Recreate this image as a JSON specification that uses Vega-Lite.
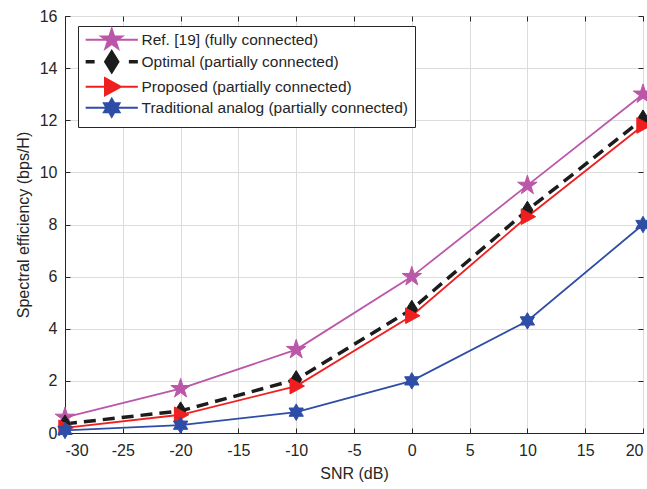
{
  "$schema": "https://vega.github.io/schema/vega-lite/v6.json",
  "width": 578,
  "height": 417,
  "autosize": {"type": "none"},
  "padding": {"left": 65, "top": 16, "right": 4, "bottom": 56},
  "background": "white",
  "config": {
    "font": "Liberation Sans",
    "view": {"stroke": "#262626", "strokeWidth": 1},
    "axis": {
      "labelFont": "Liberation Sans",
      "titleFont": "Liberation Sans",
      "labelFontSize": 16,
      "titleFontSize": 16,
      "titleFontWeight": "normal",
      "labelColor": "#262626",
      "titleColor": "#262626",
      "domainColor": "#262626",
      "tickColor": "#262626",
      "gridColor": "#dcdcdc",
      "gridWidth": 1
    }
  },
  "data": {
    "values": [
      {"snr": -30, "se": 0.6, "series": "Ref. [19] (fully connected)"},
      {"snr": -20, "se": 1.7, "series": "Ref. [19] (fully connected)"},
      {"snr": -10, "se": 3.2, "series": "Ref. [19] (fully connected)"},
      {"snr": 0, "se": 6.0, "series": "Ref. [19] (fully connected)"},
      {"snr": 10, "se": 9.5, "series": "Ref. [19] (fully connected)"},
      {"snr": 20, "se": 13.0, "series": "Ref. [19] (fully connected)"},
      {"snr": -30, "se": 0.35, "series": "Optimal (partially connected)"},
      {"snr": -20, "se": 0.85, "series": "Optimal (partially connected)"},
      {"snr": -10, "se": 2.05, "series": "Optimal (partially connected)"},
      {"snr": 0, "se": 4.75, "series": "Optimal (partially connected)"},
      {"snr": 10, "se": 8.55, "series": "Optimal (partially connected)"},
      {"snr": 20, "se": 12.05, "series": "Optimal (partially connected)"},
      {"snr": -30, "se": 0.2, "series": "Proposed (partially connected)"},
      {"snr": -20, "se": 0.7, "series": "Proposed (partially connected)"},
      {"snr": -10, "se": 1.8, "series": "Proposed (partially connected)"},
      {"snr": 0, "se": 4.5, "series": "Proposed (partially connected)"},
      {"snr": 10, "se": 8.3, "series": "Proposed (partially connected)"},
      {"snr": 20, "se": 11.8, "series": "Proposed (partially connected)"},
      {"snr": -30, "se": 0.1, "series": "Traditional analog (partially connected)"},
      {"snr": -20, "se": 0.3, "series": "Traditional analog (partially connected)"},
      {"snr": -10, "se": 0.8, "series": "Traditional analog (partially connected)"},
      {"snr": 0, "se": 2.0, "series": "Traditional analog (partially connected)"},
      {"snr": 10, "se": 4.3, "series": "Traditional analog (partially connected)"},
      {"snr": 20, "se": 8.0, "series": "Traditional analog (partially connected)"}
    ]
  },
  "resolve": {"axis": {"x": "independent", "y": "independent"}},
  "layer": [
    {
      "transform": [{"filter": "datum.series !== 'Optimal (partially connected)'"}],
      "mark": {"type": "line", "clip": false, "strokeWidth": 1.8},
      "encoding": {
        "x": {
          "field": "snr", "type": "quantitative",
          "scale": {"domain": [-30, 20], "nice": false, "zero": false},
          "axis": {
            "title": "SNR (dB)",
            "values": [-30, -25, -20, -15, -10, -5, 0, 5, 10, 15, 20],
            "labelExpr": "'' + datum.value",
            "tickSize": -5,
            "labelPadding": 14,
            "titlePadding": 7
          }
        },
        "y": {
          "field": "se", "type": "quantitative",
          "scale": {"domain": [0, 16], "nice": false},
          "axis": {
            "title": "Spectral efficiency (bps/H)",
            "values": [0, 2, 4, 6, 8, 10, 12, 14, 16],
            "labelExpr": "'' + datum.value",
            "tickSize": -5,
            "labelPadding": 13,
            "titlePadding": 8
          }
        },
        "color": {
          "field": "series", "type": "nominal",
          "sort": null,
          "scale": {
            "domain": ["Ref. [19] (fully connected)", "Optimal (partially connected)", "Proposed (partially connected)", "Traditional analog (partially connected)"],
            "range": ["#BB57A8", "#1c1c1c", "#F01F1F", "#2E4DA6"]
          },
          "legend": {
            "title": null,
            "orient": "none",
            "legendX": 13,
            "legendY": 10,
            "direction": "vertical",
            "fillColor": "white",
            "strokeColor": "#262626",
            "padding": 6,
            "rowPadding": -8,
            "symbolSize": 324,
            "symbolOffset": 20,
            "labelOffset": 22,
            "labelFont": "Liberation Sans",
            "labelFontSize": 15.5,
            "labelColor": "#262626",
            "labelLimit": 400,
            "encode": {
              "symbols": {
                "update": {
                  "shape": {"signal": "datum.value === 'Ref. [19] (fully connected)' ? 'M-2.9,0H2.9M0,-1.2L0.269,-0.371L1.141,-0.371L0.436,0.142L0.706,0.971L0,0.458L-0.706,0.971L-0.436,0.142L-1.141,-0.371L-0.269,-0.371Z' : datum.value === 'Optimal (partially connected)' ? 'M-2.9,0H-1.9M1.9,0H2.9M0,-1.05L0.65,0L0,1.05L-0.65,0Z' : datum.value === 'Proposed (partially connected)' ? 'M-2.9,0H2.9M-0.75,-0.95L1,0L-0.75,0.95Z' : 'M-2.9,0H2.9M0,-1L0.2887,-0.5L0.866,-0.5L0.577,0L0.866,0.5L0.2887,0.5L0,1L-0.2887,0.5L-0.866,0.5L-0.577,0L-0.866,-0.5L-0.2887,-0.5Z'"},
                  "fill": {"signal": "datum.value === 'Ref. [19] (fully connected)' ? '#BB57A8' : datum.value === 'Optimal (partially connected)' ? '#1c1c1c' : datum.value === 'Proposed (partially connected)' ? '#F01F1F' : '#2E4DA6'"},
                  "stroke": {"signal": "datum.value === 'Ref. [19] (fully connected)' ? '#BB57A8' : datum.value === 'Optimal (partially connected)' ? '#1c1c1c' : datum.value === 'Proposed (partially connected)' ? '#F01F1F' : '#2E4DA6'"},
                  "strokeWidth": {"signal": "datum.value === 'Optimal (partially connected)' ? 3.5 : 2"},
                  "strokeDash": {"value": []},
                  "size": {"value": 324},
                  "opacity": {"value": 1}
                }
              }
            }
          }
        }
      }
    },
    {
      "transform": [{"filter": "datum.series === 'Optimal (partially connected)'"}],
      "mark": {"type": "line", "clip": false, "strokeWidth": 3.5, "strokeDash": [12, 7]},
      "encoding": {
        "x": {"field": "snr", "type": "quantitative", "axis": null},
        "y": {"field": "se", "type": "quantitative", "axis": null},
        "color": {"field": "series", "type": "nominal", "sort": null, "legend": null}
      }
    },
    {
      "transform": [{"filter": "datum.series === 'Ref. [19] (fully connected)'"}],
      "mark": {"type": "point", "filled": true, "opacity": 1, "strokeWidth": 1, "size": 420, "clip": false,
        "stroke": "#BB57A8",
        "shape": "M0,-1L0.2245,-0.309L0.951,-0.309L0.363,0.118L0.588,0.809L0,0.382L-0.588,0.809L-0.363,0.118L-0.951,-0.309L-0.2245,-0.309Z"},
      "encoding": {
        "x": {"field": "snr", "type": "quantitative", "axis": null},
        "y": {"field": "se", "type": "quantitative", "axis": null},
        "color": {"field": "series", "type": "nominal", "sort": null, "legend": null}
      }
    },
    {
      "transform": [{"filter": "datum.series === 'Optimal (partially connected)'"}],
      "mark": {"type": "point", "filled": true, "opacity": 1, "strokeWidth": 1, "size": 324, "clip": false,
        "stroke": "#1c1c1c",
        "shape": "M0,-1L0.62,0L0,1L-0.62,0Z"},
      "encoding": {
        "x": {"field": "snr", "type": "quantitative", "axis": null},
        "y": {"field": "se", "type": "quantitative", "axis": null},
        "color": {"field": "series", "type": "nominal", "sort": null, "legend": null}
      }
    },
    {
      "transform": [{"filter": "datum.series === 'Proposed (partially connected)'"}],
      "mark": {"type": "point", "filled": true, "opacity": 1, "strokeWidth": 1, "size": 272, "clip": false,
        "stroke": "#F01F1F",
        "shape": "M-0.75,-0.95L1,0L-0.75,0.95Z"},
      "encoding": {
        "x": {"field": "snr", "type": "quantitative", "axis": null},
        "y": {"field": "se", "type": "quantitative", "axis": null},
        "color": {"field": "series", "type": "nominal", "sort": null, "legend": null}
      }
    },
    {
      "transform": [{"filter": "datum.series === 'Traditional analog (partially connected)'"}],
      "mark": {"type": "point", "filled": true, "opacity": 1, "strokeWidth": 1, "size": 272, "clip": false,
        "stroke": "#2E4DA6",
        "shape": "M0,-1L0.2887,-0.5L0.866,-0.5L0.577,0L0.866,0.5L0.2887,0.5L0,1L-0.2887,0.5L-0.866,0.5L-0.577,0L-0.866,-0.5L-0.2887,-0.5Z"},
      "encoding": {
        "x": {"field": "snr", "type": "quantitative", "axis": null},
        "y": {"field": "se", "type": "quantitative", "axis": null},
        "color": {"field": "series", "type": "nominal", "sort": null, "legend": null}
      }
    },
    {
      "mark": {"type": "point", "opacity": 0},
      "encoding": {
        "x": {"field": "snr", "type": "quantitative",
          "axis": {"orient": "top", "labels": false, "grid": false, "domain": false, "tickSize": -5, "title": null,
            "values": [-30, -25, -20, -15, -10, -5, 0, 5, 10, 15, 20]}},
        "y": {"field": "se", "type": "quantitative",
          "axis": {"orient": "right", "labels": false, "grid": false, "domain": false, "tickSize": -5, "title": null,
            "values": [0, 2, 4, 6, 8, 10, 12, 14, 16]}}
      }
    }
  ]
}
